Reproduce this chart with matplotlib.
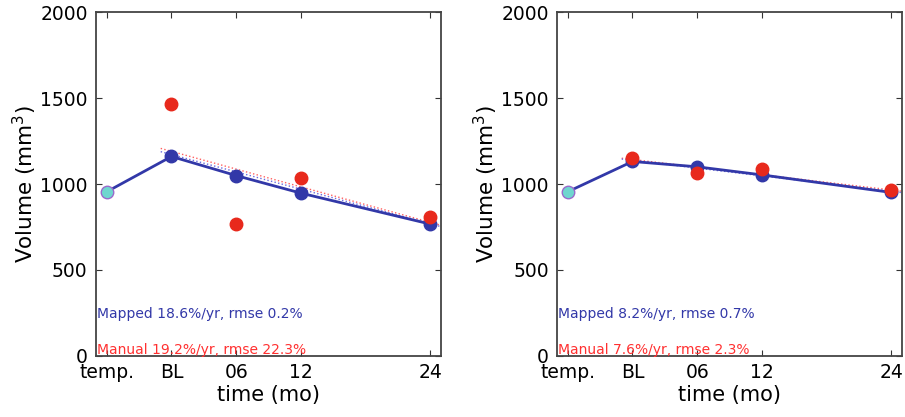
import numpy as np
import matplotlib
matplotlib.use('Agg')
import matplotlib.pyplot as plt

# months; "temp." sits at -6
tick_pos = [-6, 0, 6, 12, 24]
tick_labels = ['temp.', 'BL', '06', '12', '24']

months = [0, 6, 12, 24]
temp_vol = [955, 955]

mapped_left = [1160, 1049, 947, 767]
manual_left = [1466, 766, 1034, 811]
mapped_right = [1131, 1100, 1053, 951]
manual_right = [1149, 1066, 1087, 965]

# fitted lines (start, end)
fit_x = [-1, 25]
fit_mapped_left = [1188, 752]
fit_manual_left = [1207, 760]
fit_mapped_right = [1145, 950]
fit_manual_right = [1150, 958]

texts_left = ['Mapped 18.6%/yr, rmse 0.2%', 'Manual 19.2%/yr, rmse 22.3%']
texts_right = ['Mapped 8.2%/yr, rmse 0.7%', 'Manual 7.6%/yr, rmse 2.3%']

blue = '#3238a8'
red = '#e8291c'
cyan = '#6fd6cf'

fig = plt.figure(figsize=(9.05, 4.17), dpi=100)
ax1 = fig.add_axes([0.1061, 0.1463, 0.3812, 0.8249])
ax2 = fig.add_axes([0.6155, 0.1463, 0.3812, 0.8249])


def draw_panel(ax, tv, mapped, manual, fit_map, fit_man, texts):
    ax.plot(fit_x, fit_man, color='#ff6060', lw=1, ls=':', zorder=2)
    ax.plot(fit_x, fit_map, color='#6a6ae0', lw=1, ls=':', zorder=2)
    ax.plot([-6] + months, [tv] + mapped, color=blue, lw=2, zorder=3)
    ax.plot(months, mapped, 'o', color=blue, ms=9, zorder=4)
    ax.plot(months, manual, 'o', color=red, ms=9, zorder=5)
    ax.plot([-6], [tv], 'o', color=cyan, mec='#9a6acc', mew=1, ms=9, zorder=6)

    ax.set_xlim(-7, 25)
    ax.set_ylim(0, 2000)
    ax.set_xticks(tick_pos)
    ax.set_xticklabels(tick_labels)
    ax.set_yticks([0, 500, 1000, 1500, 2000])
    ax.tick_params(direction='in', top=True, right=True, length=4,
                   labelsize=13.5, color='#333333')
    ax.tick_params(axis='x', pad=5)
    ax.tick_params(axis='y', pad=6)
    for s in ax.spines.values():
        s.set_color('#444444')
        s.set_linewidth(1.3)
    ax.set_xlabel('time (mo)', fontsize=15, labelpad=2)
    ax.set_ylabel('Volume (mm$^3$)', fontsize=15.5, labelpad=1)

    ax.text(0.003, 0.122, texts[0], color=blue, fontsize=10,
            transform=ax.transAxes, va='center')
    ax.text(0.003, 0.018, texts[1], color='#ff3030', fontsize=10,
            transform=ax.transAxes, va='center')


draw_panel(ax1, temp_vol[0], mapped_left, manual_left,
           fit_mapped_left, fit_manual_left, texts_left)
draw_panel(ax2, temp_vol[1], mapped_right, manual_right,
           fit_mapped_right, fit_manual_right, texts_right)

fig.savefig('out.png', dpi=100)
